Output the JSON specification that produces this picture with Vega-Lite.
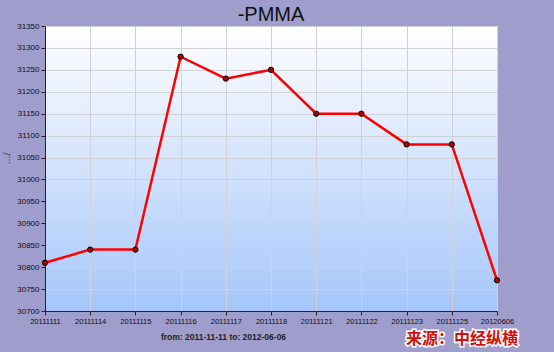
{
  "$schema": "https://vega.github.io/schema/vega-lite/v6.json",
  "autosize": {"type": "none"},
  "padding": {"left": 45, "top": 26, "right": 57, "bottom": 41},
  "width": 452,
  "height": 285,
  "background": "#9e9dcc",
  "title": {"text": "-PMMA", "fontSize": 20, "fontWeight": "normal", "font": "Liberation Sans", "color": "#111111", "anchor": "middle", "offset": -3},
  "config": {
    "view": {"stroke": "#c8c8d0", "fill": {"gradient": "linear", "x1": 0, "y1": 0, "x2": 0, "y2": 1, "stops": [{"offset": 0, "color": "#ffffff"}, {"offset": 1, "color": "#a5c6fa"}]}},
    "axis": {"labelFont": "Liberation Sans", "labelColor": "#111111", "domainColor": "#222222", "tickColor": "#222222", "tickSize": 4, "gridColor": "#d2d2d6", "gridOpacity": 1}
  },
  "data": {"values": [
    {"date": "20111111", "price": 30810},
    {"date": "20111114", "price": 30840},
    {"date": "20111115", "price": 30840},
    {"date": "20111116", "price": 31280},
    {"date": "20111117", "price": 31230},
    {"date": "20111118", "price": 31250},
    {"date": "20111121", "price": 31150},
    {"date": "20111122", "price": 31150},
    {"date": "20111123", "price": 31080},
    {"date": "20111125", "price": 31080},
    {"date": "20120606", "price": 30770}
  ]},
  "encoding": {
    "x": {"field": "date", "type": "ordinal", "sort": null,
      "scale": {"type": "point", "padding": 0},
      "axis": {"labelAngle": 0, "grid": true, "labelFontSize": 7.5, "title": "from:  2011-11-11   to:  2012-06-06", "titleFont": "Liberation Sans", "titleFontSize": 8.5, "titleFontWeight": "bold", "titleColor": "#222222", "titleX": 178, "titleY": 21, "labelPadding": 2}},
    "y": {"field": "price", "type": "quantitative",
      "scale": {"domain": [30700, 31350], "nice": false, "zero": false},
      "axis": {"values": [30700, 30750, 30800, 30850, 30900, 30950, 31000, 31050, 31100, 31150, 31200, 31250, 31300, 31350], "format": "d", "labelFontSize": 8, "grid": true, "title": "…/", "titleFont": "DejaVu Sans", "titleFontSize": 9, "titleFontWeight": "normal", "titleColor": "#333333", "titlePadding": 5, "titleY": 132, "labelPadding": 2}}
  },
  "layer": [
    {"mark": {"type": "line", "color": "#ff0000", "strokeWidth": 2.5}},
    {"mark": {"type": "point", "filled": true, "fill": "#b00000", "stroke": "#000000", "strokeWidth": 1, "size": 28, "opacity": 1}},
    {"transform": [{"filter": "datum.date == '20120606'"}],
     "mark": {"type": "text", "align": "right", "baseline": "middle", "dx": 21, "font": "Noto Sans CJK SC", "fontSize": 16, "fontWeight": "bold", "stroke": "#ffffff", "strokeWidth": 3, "fill": "#ffffff", "clip": false},
     "encoding": {"y": {"datum": 30636}, "text": {"value": "来源：中经纵横"}}},
    {"transform": [{"filter": "datum.date == '20120606'"}],
     "mark": {"type": "text", "align": "right", "baseline": "middle", "dx": 21, "font": "Noto Sans CJK SC", "fontSize": 16, "fontWeight": "bold", "fill": "#d01010", "clip": false},
     "encoding": {"y": {"datum": 30636}, "text": {"value": "来源：中经纵横"}}}
  ]
}
